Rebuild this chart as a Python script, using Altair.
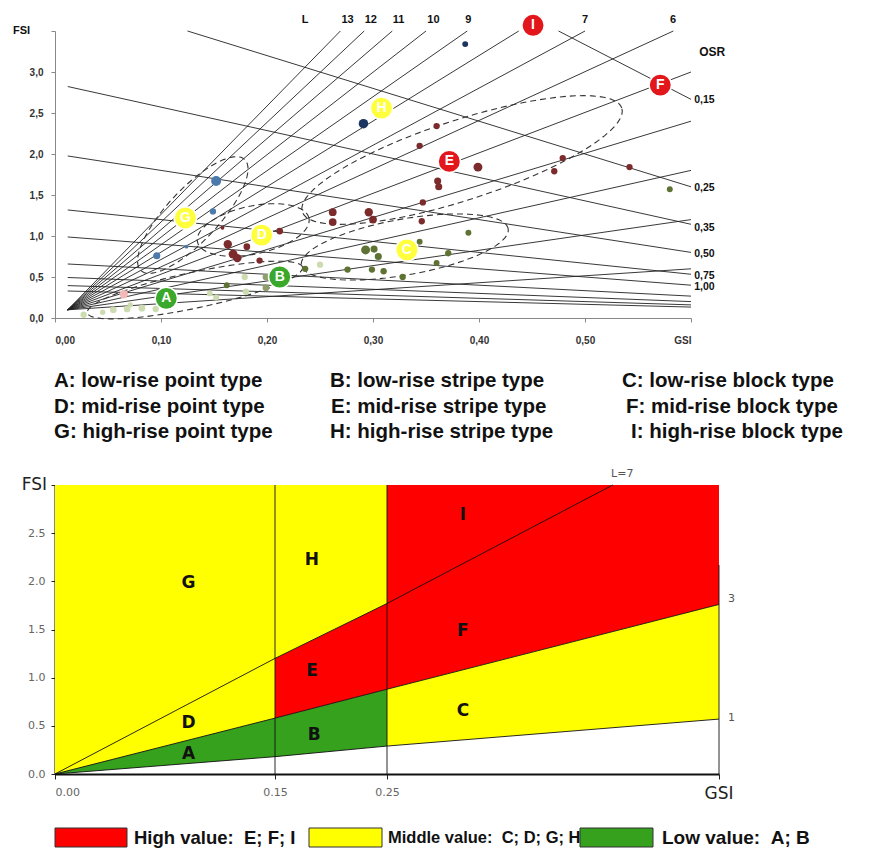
import math
import numpy as np
import pandas as pd
import altair as alt

# ================= TOP CHART (Spacemate) =================
GSI_MAX = 0.6
FSI_MAX = 3.5
TOP_W, TOP_H = 636, 287
PX_PER_GSI = TOP_W / GSI_MAX
PX_PER_FSI = TOP_H / FSI_MAX

L_values = [1, 2, 3, 4, 5, 6, 7, 8, 9, 10, 11, 12, 13]
L_origin = [0.012, 0.10]
OSR_values = [0.15, 0.25, 0.35, 0.50, 0.75, 1.00, 1.50, 2.00, 2.50, 3.00]
OSR_label_text = ["0,15", "0,25", "0,35", "0,50", "0,75", "1,00"]
OSR_label_fsi = [2.66, 1.59, 1.10, 0.78, 0.51, 0.38]
L_label_text = ["L", "13", "12", "11", "10", "9", "7", "6"]
L_label_gsi = [0.236, 0.276, 0.298, 0.324, 0.357, 0.390, 0.500, 0.583]
L_label_fsi = 3.63

# measured building samples
pt_gsi = [0.387, 0.291,
          0.152, 0.149, 0.096, 0.124,
          0.360, 0.344, 0.399, 0.361, 0.362, 0.347, 0.346, 0.479, 0.471, 0.542,
          0.262, 0.262, 0.296, 0.300, 0.212, 0.163, 0.168, 0.172, 0.181, 0.193, 0.158,
          0.293, 0.301, 0.305, 0.276, 0.299, 0.310, 0.328, 0.344, 0.390, 0.371, 0.360,
          0.580, 0.236, 0.162,
          0.199, 0.199,
          0.179, 0.250, 0.180, 0.146, 0.152, 0.027, 0.055, 0.068, 0.082, 0.095, 0.071, 0.045,
          0.065]
pt_fsi = [3.34, 2.37,
          1.67, 1.30, 0.76, 0.87,
          2.34, 2.10, 1.84, 1.67, 1.60, 1.41, 1.18, 1.95, 1.79, 1.84,
          1.29, 1.17, 1.29, 1.20, 1.06, 0.90, 0.78, 0.73, 0.87, 0.70, 1.10,
          0.83, 0.84, 0.75, 0.59, 0.59, 0.57, 0.50, 0.93, 1.04, 0.79, 0.67,
          1.57, 0.60, 0.40,
          0.50, 0.37,
          0.50, 0.65, 0.32, 0.30, 0.25, 0.04, 0.10, 0.11, 0.12, 0.11, 0.16, 0.07,
          0.29]
pt_group = (["navy"] * 2 + ["steel"] * 4 + ["maroon"] * 21 + ["olive"] * 14
            + ["greygreen"] * 2 + ["pale"] * 12 + ["pink"])
pt_size = [35, 90,
           100, 40, 50, 15,
           40, 40, 80, 50, 50, 40, 40, 40, 40, 40,
           60, 60, 70, 60, 45, 70, 80, 70, 45, 40, 15,
           80, 50, 50, 40, 40, 40, 40, 35, 35, 40, 35,
           35, 40, 35,
           45, 45,
           40, 40, 40, 35, 35, 40, 45, 45, 45, 40, 30, 30,
           70]
group_colors = {"navy": "#1c3560", "steel": "#4c7bab", "maroon": "#7b2b2b",
                "olive": "#5e7233", "greygreen": "#8f9e6c", "pale": "#cddcb0",
                "pink": "#f2b9b9"}

type_letter = ["A", "B", "C", "D", "E", "F", "G", "H", "I"]
type_gsi = [0.105, 0.212, 0.332, 0.195, 0.372, 0.571, 0.123, 0.308, 0.451]
type_fsi = [0.24, 0.50, 0.83, 1.01, 1.91, 2.84, 1.22, 2.56, 3.57]
type_color = ["#3aa82a", "#3aa82a", "#ffff3c", "#ffff3c", "#e3161b",
              "#e3161b", "#ffff3c", "#ffff3c", "#e3161b"]

# dashed cluster ellipses: centre (data), semi-axes (px), rotation (deg)
ell_cx = [0.130, 0.384, 0.330, 0.187, 0.132]
ell_cy = [1.256, 1.927, 0.866, 1.073, 0.341]
ell_a = [76, 168, 105, 57, 110]
ell_b = [26, 40, 28, 24, 18]
ell_rot = [47, 18, 10, 12, 12]

# ---- build tables ----
rows = []
for L in L_values:
    if GSI_MAX * L <= FSI_MAX:
        end = (GSI_MAX, GSI_MAX * L)
    else:
        end = (FSI_MAX / L, FSI_MAX)
    rows.append({"gsi": L_origin[0], "fsi": L_origin[1], "id": f"L{L}"})
    rows.append({"gsi": end[0], "fsi": end[1], "id": f"L{L}"})
for o in OSR_values:
    g0 = max(0.012, 1 - FSI_MAX * o)
    rows.append({"gsi": g0, "fsi": (1 - g0) / o, "id": f"O{o}"})
    rows.append({"gsi": GSI_MAX, "fsi": (1 - GSI_MAX) / o, "id": f"O{o}"})
grid_df = pd.DataFrame(rows)

erows = []
t = np.linspace(0, 2 * np.pi, 81)
for k in range(len(ell_cx)):
    th = math.radians(ell_rot[k])
    for i, tt in enumerate(t):
        u, v = ell_a[k] * math.cos(tt), ell_b[k] * math.sin(tt)
        X = u * math.cos(th) - v * math.sin(th)
        Y = u * math.sin(th) + v * math.cos(th)
        erows.append({"gsi": ell_cx[k] + X / PX_PER_GSI,
                      "fsi": ell_cy[k] + Y / PX_PER_FSI, "id": k, "i": i})
ell_df = pd.DataFrame(erows)

pts_df = pd.DataFrame({"gsi": pt_gsi, "fsi": pt_fsi, "size": pt_size,
                       "col": [group_colors[g] for g in pt_group]})
type_df = pd.DataFrame({"gsi": type_gsi, "fsi": type_fsi, "letter": type_letter,
                        "col": type_color})
llab_df = pd.DataFrame({"gsi": L_label_gsi, "fsi": [L_label_fsi] * len(L_label_gsi),
                        "text": L_label_text})
olab_df = pd.DataFrame({"gsi": [0.603] * len(OSR_label_text), "fsi": OSR_label_fsi,
                        "text": OSR_label_text})
osr_title = pd.DataFrame({"gsi": [0.62], "fsi": [3.24], "text": ["OSR"]})
fsi_title = pd.DataFrame({"gsi": [0.0], "fsi": [3.5], "text": ["FSI"]})

xs = alt.Scale(domain=[0, GSI_MAX], nice=False, zero=False)
ys = alt.Scale(domain=[0, FSI_MAX], nice=False, zero=False)
X = alt.X("gsi:Q", scale=xs, title=None,
          axis=alt.Axis(values=[0, 0.1, 0.2, 0.3, 0.4, 0.5, 0.6], grid=False,
                        labelExpr="datum.value >= 0.6 ? 'GSI' : replace(format(datum.value, '.2f'), '.', ',')",
                        labelFont="Liberation Sans", labelFontWeight="bold",
                        labelFontSize=10, labelColor="#333", labelPadding=13,
                        tickSize=4, tickColor="#888", domainColor="#888"))
Y = alt.Y("fsi:Q", scale=ys, title=None,
          axis=alt.Axis(values=[0, 0.5, 1.0, 1.5, 2.0, 2.5, 3.0, 3.5], grid=False,
                        labelExpr="datum.value >= 3.5 ? '' : replace(format(datum.value, '.1f'), '.', ',')",
                        labelFont="Liberation Sans", labelFontWeight="bold",
                        labelFontSize=10, labelColor="#333", labelPadding=8,
                        tickSize=4, tickColor="#888", domainColor="#888"))

grid_layer = alt.Chart(grid_df).mark_line(color="#222", strokeWidth=0.9).encode(
    x=X, y=Y, detail="id:N")
ell_layer = alt.Chart(ell_df).mark_line(color="#333", strokeWidth=1.1,
                                        strokeDash=[6, 4]).encode(
    x=X, y=Y, detail="id:N", order="i:Q")
pts_layer = alt.Chart(pts_df).mark_circle(opacity=1).encode(
    x=X, y=Y, color=alt.Color("col:N", scale=None), size=alt.Size("size:Q", scale=None))
type_circ = alt.Chart(type_df).mark_circle(opacity=1, size=500, stroke="white",
                                           strokeWidth=1.5).encode(
    x=X, y=Y, color=alt.Color("col:N", scale=None))
type_txt = alt.Chart(type_df).mark_text(color="white", fontWeight="bold", fontSize=14,
                                        font="Liberation Sans").encode(
    x=X, y=Y, text="letter:N")
llab = alt.Chart(llab_df).mark_text(fontWeight="bold", fontSize=11, color="#111",
                                    font="Liberation Sans").encode(x=X, y=Y, text="text:N")
olab = alt.Chart(olab_df).mark_text(fontWeight="bold", fontSize=10.5, color="#111",
                                    align="left", font="Liberation Sans").encode(
    x=X, y=Y, text="text:N")
osr_layer = alt.Chart(osr_title).mark_text(fontWeight="bold", fontSize=12, color="#111",
                                           font="Liberation Sans").encode(
    x=X, y=Y, text="text:N")
fsi_layer = alt.Chart(fsi_title).mark_text(fontWeight="bold", fontSize=11, color="#111",
                                           align="left", dx=-42,
                                           font="Liberation Sans").encode(
    x=X, y=Y, text="text:N")

top = alt.layer(grid_layer, ell_layer, pts_layer, type_circ, type_txt, llab, olab,
                osr_layer, fsi_layer).properties(width=TOP_W, height=TOP_H)

# ================= TEXT BLOCK =================
TXT_W, TXT_H = 790, 123
desc_text = ["A: low-rise point type", "B: low-rise stripe type", "C: low-rise block type",
             "D: mid-rise point type", "E: mid-rise stripe type", "F: mid-rise block type",
             "G: high-rise point type", "H: high-rise stripe type", "I: high-rise block type"]
desc_x = [-1, 275, 567, -1, 276, 571, -1, 275, 576]
desc_y = [36, 36, 36, 62, 62, 62, 87, 87, 87]
desc_df = pd.DataFrame({"x": desc_x, "y": desc_y, "text": desc_text})
txt = alt.Chart(desc_df).mark_text(align="left", fontSize=20.5, fontWeight="bold",
                                   font="Liberation Sans", color="#111").encode(
    x=alt.X("x:Q", scale=alt.Scale(domain=[0, TXT_W], nice=False), axis=None),
    y=alt.Y("y:Q", scale=alt.Scale(domain=[0, TXT_H], nice=False, reverse=True), axis=None),
    text="text:N").properties(width=TXT_W, height=TXT_H)

# ================= BOTTOM CHART (value zones) =================
BOT_W, BOT_H = 664, 289
bx_domain = [0, 0.15, 0.25, 0.6]
bx_range = [0, 220, 332, 664]
line7_x = [0, 0.15, 0.25, 0.488]
line7_y = [0, 1.20, 1.77, 3.0]
line3_y = [0, 0.58, 0.88, 1.76]
line1_y = [0, 0.18, 0.29, 0.57]
TOPV = 3.0

zones = [
    ("GD", "#ffff00", [0, 0.15], [TOPV, TOPV], [line3_y[0], line3_y[1]]),
    ("AB", "#35a11d", [0, 0.15, 0.25], line3_y[:3], line1_y[:3]),
    ("H", "#ffff00", [0.15, 0.25], [TOPV, TOPV], line7_y[1:3]),
    ("E", "#ff0000", [0.15, 0.25], line7_y[1:3], line3_y[1:3]),
    ("IF", "#ff0000", [0.25, 0.6], [TOPV, TOPV], line3_y[2:4]),
    ("C", "#ffff00", [0.25, 0.6], line3_y[2:4], line1_y[2:4]),
]
zrows = []
for name, col, xv, top_v, bot_v in zones:
    for a, b, c in zip(xv, top_v, bot_v):
        zrows.append({"x": a, "top": b, "bot": c, "zone": name, "col": col})
zone_df = pd.DataFrame(zrows)

blines = []
for a, b in zip(line7_x, line7_y):
    blines.append({"x": a, "y": b, "id": "L7"})
for a, b in zip(bx_domain, line3_y):
    blines.append({"x": a, "y": b, "id": "3"})
for a, b in zip(bx_domain, line1_y):
    blines.append({"x": a, "y": b, "id": "1"})
for v in [0.15, 0.25]:
    blines.append({"x": v, "y": 0, "id": f"v{v}"})
    blines.append({"x": v, "y": TOPV, "id": f"v{v}"})
blines.append({"x": 0.6, "y": 0, "id": "right"})
blines.append({"x": 0.6, "y": 2.17, "id": "right"})
bline_df = pd.DataFrame(blines)

zone_letter = ["G", "H", "E", "D", "A", "B", "I", "F", "C"]
zone_lx = [0.091, 0.183, 0.183, 0.091, 0.091, 0.185, 0.330, 0.330, 0.330]
zone_ly = [1.98, 2.22, 1.07, 0.53, 0.21, 0.41, 2.69, 1.48, 0.65]
zlab_df = pd.DataFrame({"x": zone_lx, "y": zone_ly, "text": zone_letter})

l7_df = pd.DataFrame({"x": [0.498], "y": [3.11], "text": ["L=7"]})
side_df = pd.DataFrame({"x": [0.6, 0.6], "y": [1.82, 0.58], "text": ["3", "1"]})
bxs = alt.Scale(domain=bx_domain, range=bx_range, nice=False, zero=False)
bys = alt.Scale(domain=[0, TOPV], nice=False, zero=False)
BX = alt.X("x:Q", scale=bxs, title=None,
           axis=alt.Axis(values=[0, 0.15, 0.25, 0.6], grid=False,
                         labelExpr="datum.value >= 0.6 ? '' : format(datum.value, '.2f')",
                         labelFont="DejaVu Sans", labelFontSize=11, labelColor="#666",
                         labelPadding=7, tickSize=5, tickColor="#222",
                         domainColor="#111", domainWidth=2))
BY = alt.Y("y:Q", scale=bys, title=None,
           axis=alt.Axis(values=[0, 0.5, 1.0, 1.5, 2.0, 2.5, 3.0], grid=False,
                         labelExpr="datum.value >= 3 ? '' : format(datum.value, '.1f')",
                         labelFont="DejaVu Sans", labelFontSize=11, labelColor="#666",
                         labelPadding=6, tickSize=4, tickColor="#222",
                         domainColor="#111", domainWidth=2))

zone_layer = alt.Chart(zone_df).mark_area(opacity=1, interpolate="linear").encode(
    x=BX, y=alt.Y("top:Q", scale=bys, title=None), y2="bot:Q", detail="zone:N",
    color=alt.Color("col:N", scale=None))
bline_layer = alt.Chart(bline_df).mark_line(color="#111", strokeWidth=0.9).encode(
    x=BX, y=BY, detail="id:N")
zlab_layer = alt.Chart(zlab_df).mark_text(fontWeight="bold", fontSize=17, color="#111",
                                          font="DejaVu Sans").encode(
    x=BX, y=BY, text="text:N")
l7_layer = alt.Chart(l7_df).mark_text(fontSize=11, color="#555",
                                      font="DejaVu Sans").encode(
    x=BX, y=BY, text="text:N")
side_layer = alt.Chart(side_df).mark_text(fontSize=11, color="#555", align="left", dx=9,
                                          font="DejaVu Sans").encode(
    x=BX, y=BY, text="text:N")
gsi_df = pd.DataFrame({"x": [0.6], "y": [0.0], "text": ["GSI"]})
fsi_df = pd.DataFrame({"x": [0.0], "y": [3.0], "text": ["FSI"]})
names_gsi = alt.Chart(gsi_df).mark_text(fontSize=17, color="#222", dy=20,
                                        font="DejaVu Sans").encode(
    x=BX, y=BY, text="text:N")
names_fsi = alt.Chart(fsi_df).mark_text(fontSize=17, color="#222", align="right", dx=-8,
                                        font="DejaVu Sans").encode(
    x=BX, y=BY, text="text:N")

bottom = alt.layer(zone_layer, bline_layer, zlab_layer, l7_layer, side_layer, names_gsi,
                   names_fsi).properties(width=BOT_W, height=BOT_H)

# ================= LEGEND =================
LEG_W, LEG_H = 790, 48
NB = "\u00a0"
leg_x1 = [0, 254, 525]
leg_x2 = [72, 327, 598]
leg_col = ["#ff0000", "#ffff00", "#35a11d"]
leg_text = ["High value:" + NB + NB + "E; F; I",
            "Middle value:" + NB + NB + "C; D; G; H",
            "Low value:" + NB + NB + "A; B"]
leg_fs = [18.5, 16.5, 19]
leg_tx = [79, 333, 607]
leg_df = pd.DataFrame({"x1": leg_x1, "x2": leg_x2, "y1": [26] * 3, "y2": [45] * 3,
                       "col": leg_col, "tx": leg_tx, "ty": [36] * 3, "text": leg_text,
                       "fs": leg_fs})
lxs = alt.Scale(domain=[0, LEG_W], nice=False)
lys = alt.Scale(domain=[0, LEG_H], nice=False, reverse=True)
leg_rect = alt.Chart(leg_df).mark_rect(stroke="#333", strokeWidth=1).encode(
    x=alt.X("x1:Q", scale=lxs, axis=None), x2="x2:Q",
    y=alt.Y("y1:Q", scale=lys, axis=None), y2="y2:Q",
    color=alt.Color("col:N", scale=None))
leg_txt = alt.Chart(leg_df).mark_text(align="left", fontWeight="bold",
                                      font="Liberation Sans", color="#111").encode(
    x=alt.X("tx:Q", scale=lxs, axis=None), y=alt.Y("ty:Q", scale=lys, axis=None),
    text="text:N", size=alt.Size("fs:Q", scale=None))
legend = alt.layer(leg_rect, leg_txt).properties(width=LEG_W, height=LEG_H)

chart = alt.vconcat(top, txt, bottom, legend, spacing=0).properties(
    padding={"left": 5, "top": 3, "right": 5, "bottom": 5}
).configure_view(stroke=None).resolve_scale(size="independent", color="independent")

chart.save("out.html", embed_options={"renderer": "svg", "actions": False})
